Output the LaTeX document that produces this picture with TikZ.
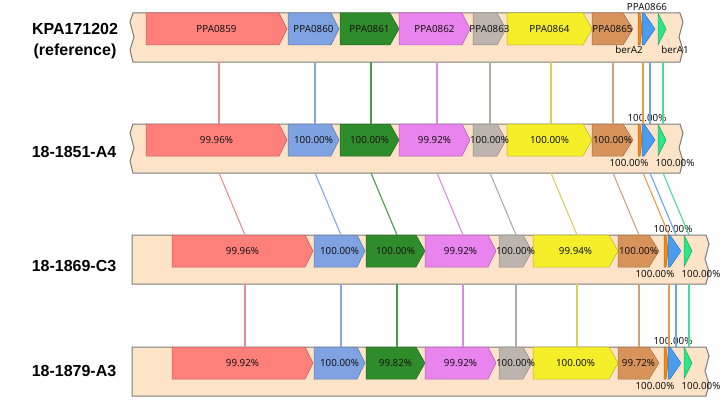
\documentclass[tikz,border=0pt]{standalone}
\usepackage{fontspec}
\setmainfont{Liberation Sans}
\newfontfamily\genefont{Noto Sans}
\usepackage{tikz}

\definecolor{barfill}{HTML}{FDE4C9}
\definecolor{bargray}{HTML}{7C7C7C}
\definecolor{txtdark}{HTML}{141414}
% gene fills
\definecolor{gc1}{HTML}{FF7F7B}
\definecolor{gc2}{HTML}{7FA2E2}
\definecolor{gc3}{HTML}{2F8C2A}
\definecolor{gc4}{HTML}{E983EE}
\definecolor{gc5}{HTML}{BCB4AD}
\definecolor{gc6}{HTML}{F5EF2A}
\definecolor{gc7}{HTML}{D8935A}
\definecolor{gc8}{HTML}{F28A1A}
\definecolor{gc9}{HTML}{4A9CF2}
\definecolor{gc10}{HTML}{2EE68A}
% link colours
\definecolor{lc1}{HTML}{E38F8F}
\definecolor{lc2}{HTML}{8AA6DE}
\definecolor{lc3}{HTML}{4A9A46}
\definecolor{lc4}{HTML}{D98BE0}
\definecolor{lc5}{HTML}{B0ACA8}
\definecolor{lc6}{HTML}{D6D25A}
\definecolor{lc7}{HTML}{C9A27E}
\definecolor{lc8}{HTML}{E39A4C}
\definecolor{lc9}{HTML}{6AA5E8}
\definecolor{lc10}{HTML}{4FDB95}

\begin{document}
\begin{tikzpicture}[x=1pt,y=-1pt,
    bar/.style={fill=barfill,draw=bargray,line width=1pt},
    gene/.style={line width=0.5pt},
    lab/.style={font=\genefont\fontsize{9.8}{11}\selectfont,text=txtdark,inner sep=0pt},
    strain/.style={font=\bfseries\fontsize{16}{21}\selectfont,align=center,inner sep=0pt},
    link/.style={line width=1.1pt}]
    \useasboundingbox (0,0) rectangle (722,404);

    % strain names
    \node[strain] (kpa) at (75,41) {KPA171202\\(reference)};
    \node[strain] (a4) at (74,152) {18-1851-A4};
    \node[strain] (c3) at (74,266) {18-1869-C3};
    \node[strain] (a3) at (74,371) {18-1879-A3};

    % backbones and gene arrows
    \foreach \r/\dx/\dy in {1/0/0,2/0/111,3/26/222,4/26/334}{
        \begin{scope}[shift={(\dx,\dy)}]
            \ifnum\r<3
                \draw[bar] (133,13) -- (680,13) -- (683,22) -- (679,37) -- (683,50) -- (680,62)
                    -- (133,62) -- (130,50) -- (134,37) -- (130,22) -- cycle;
            \else
                \draw[bar] (106,13) -- (680,13) -- (683,22) -- (679,37) -- (683,50) -- (680,62)
                    -- (106,62) -- cycle;
            \fi
            \foreach \i/\a/\b/\t/\lx in {1/146/279/287/219,2/288/331/339/315,3/340/390/399/371,
                4/399/462/470/437,5/473/497/506/490,6/507/583/592/551,7/592/623/633/613,
                8/638/640/642/643,9/642/644/655/650,10/658/658/666/663}{
                \draw[gene,fill=gc\i,draw=gc\i!75!black] (\a,13) -- (\b,13) -- (\t,29) -- (\b,45) -- (\a,45) -- cycle;
                \coordinate (g\i-\r-m) at ({(\a+\t)/2},29);
                \coordinate (g\i-\r-t) at (\lx,13);
                \coordinate (g\i-\r-b) at (\lx,62);
            }
            \coordinate (up-\r) at (647,7);
            \coordinate (dl-\r) at (629,52);
            \coordinate (dr-\r) at (675,52);
        \end{scope}
    }

    % gene names and identities
    \foreach \i/\txt in {1/PPA0859,2/PPA0860,3/PPA0861,4/PPA0862,5/PPA0863,6/PPA0864,7/PPA0865}
        \node[lab] (n\i-1) at (g\i-1-m) {\txt};
    \node[lab] (n9-1) at (up-1) {PPA0866};
    \node[lab] (n8-1) at ([yshift=2pt]dl-1) {berA2};
    \node[lab] (n10-1) at ([yshift=2pt]dr-1) {berA1};

    \foreach \i/\txt in {1/99.96,2/100.00,3/100.00,4/99.92,5/100.00,6/100.00,7/100.00}
        \node[lab] (n\i-2) at (g\i-2-m) {\txt\%};
    \node[lab] (n9-2) at (up-2) {100.00\%};
    \node[lab] (n8-2) at (dl-2) {100.00\%};
    \node[lab] (n10-2) at (dr-2) {100.00\%};

    \foreach \i/\txt in {1/99.96,2/100.00,3/100.00,4/99.92,5/100.00,6/99.94,7/100.00}
        \node[lab] (n\i-3) at (g\i-3-m) {\txt\%};
    \node[lab] (n9-3) at (up-3) {100.00\%};
    \node[lab] (n8-3) at (dl-3) {100.00\%};
    \node[lab] (n10-3) at (dr-3) {100.00\%};

    \foreach \i/\txt in {1/99.92,2/100.00,3/99.82,4/99.92,5/100.00,6/100.00,7/99.72}
        \node[lab] (n\i-4) at (g\i-4-m) {\txt\%};
    \node[lab] (n9-4) at (up-4) {100.00\%};
    \node[lab] (n8-4) at (dl-4) {100.00\%};
    \node[lab] (n10-4) at (dr-4) {100.00\%};

    % links between the strains
    \foreach \i in {1,...,10}{
        \draw[link,draw=lc\i] (g\i-1-b) -- (g\i-2-t);
        \draw[link,draw=lc\i] (g\i-2-b) -- (g\i-3-t);
        \draw[link,draw=lc\i] (g\i-3-b) -- (g\i-4-t);
    }
\end{tikzpicture}
\end{document}
